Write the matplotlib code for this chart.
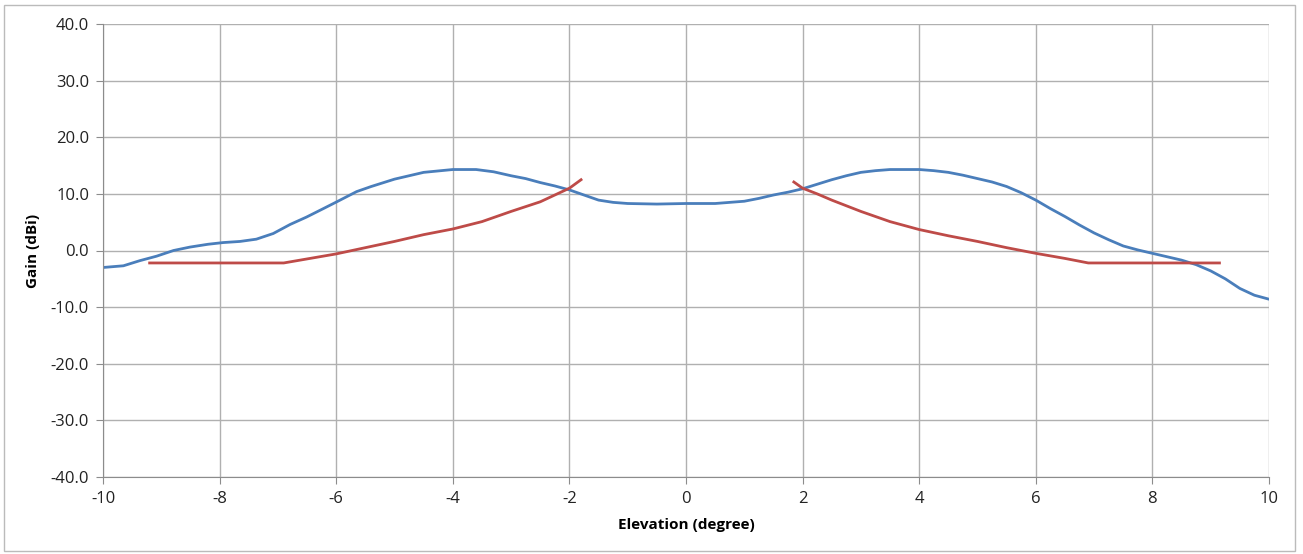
import matplotlib.pyplot as plt
from matplotlib.patches import Rectangle

# gain pattern (blue)
elev = [-10, -9.65, -9.37, -9.08, -8.79, -8.51, -8.2, -7.94, -7.65, -7.37, -7.08, -6.79,
        -6.51, -6.22, -5.99, -5.65, -5.4, -5, -4.5, -4, -3.6, -3.3, -3, -2.75, -2.5, -2.25,
        -2, -1.75, -1.5, -1.25, -1, -0.5, 0, 0.5, 1, 1.25, 1.5, 1.75, 2, 2.25, 2.5, 2.75,
        3, 3.25, 3.5, 4, 4.25, 4.5, 4.75, 5, 5.25, 5.5, 5.75, 6, 6.25, 6.5, 6.75, 7, 7.25,
        7.5, 7.75, 8, 8.25, 8.5, 8.75, 9, 9.25, 9.5, 9.75, 10]
gain = [-3.0, -2.7, -1.8, -1.0, 0.0, 0.6, 1.1, 1.4, 1.6, 2.0, 3.0, 4.6,
        5.9, 7.4, 8.6, 10.4, 11.3, 12.6, 13.8, 14.3, 14.3, 13.9, 13.2, 12.7, 12.0, 11.4,
        10.7, 9.8, 8.9, 8.5, 8.3, 8.2, 8.3, 8.3, 8.7, 9.2, 9.8, 10.3, 10.9, 11.7, 12.5, 13.2,
        13.8, 14.1, 14.3, 14.3, 14.1, 13.8, 13.3, 12.7, 12.1, 11.3, 10.2, 8.9, 7.4, 6.0, 4.5, 3.1, 1.9,
        0.8, 0.1, -0.5, -1.1, -1.7, -2.5, -3.6, -5.0, -6.7, -7.9, -8.6]

# mask (red), left and right branches
mask_left_x = [-9.2, -6.9, -6, -5, -4.5, -4, -3.5, -3, -2.5, -2.25, -2, -1.8]
mask_left_y = [-2.2, -2.2, -0.6, 1.6, 2.8, 3.8, 5.1, 6.9, 8.6, 9.8, 11.0, 12.5]
mask_right_x = [1.85, 2, 2.25, 2.5, 3, 3.5, 4, 4.5, 5, 5.5, 6, 6.5, 6.9, 9.15]
mask_right_y = [12.1, 11.0, 10.0, 8.9, 6.9, 5.1, 3.7, 2.6, 1.6, 0.5, -0.5, -1.4, -2.2, -2.2]

xticks = [-10, -8, -6, -4, -2, 0, 2, 4, 6, 8, 10]
yticks = [-40, -30, -20, -10, 0, 10, 20, 30, 40]

plt.rcParams['font.family'] = ['Open Sans', 'DejaVu Sans']

fig = plt.figure(figsize=(13.03, 5.54), dpi=100)
ax = fig.add_axes([103 / 1303, 1 - 477 / 554, (1269 - 103) / 1303, (477 - 24) / 554])

ax.plot(elev, gain, color='#4A7EBB', lw=2.0)
ax.plot(mask_left_x, mask_left_y, color='#BE4B48', lw=2.0)
ax.plot(mask_right_x, mask_right_y, color='#BE4B48', lw=2.0)

ax.set_xlim(-10, 10)
ax.set_ylim(-40, 40)
ax.set_xticks(xticks)
ax.set_xticklabels([str(t) for t in xticks])
ax.set_yticks(yticks)
ax.set_yticklabels(['%.1f' % t for t in yticks])
ax.grid(True, color='#B0B0B0', lw=1.0)
ax.set_axisbelow(True)
for s in ax.spines.values():
    s.set_visible(False)
ax.spines['left'].set_visible(True)
ax.spines['bottom'].set_visible(True)
ax.spines['left'].set_color('#8C8C8C')
ax.spines['bottom'].set_color('#8C8C8C')
ax.tick_params(direction='out', length=5, color='#8C8C8C', labelsize=12,
               labelcolor='#222222', pad=5)

ax.set_xlabel('Elevation (degree)', fontsize=11, fontweight='bold', labelpad=8)
ax.set_ylabel('Gain (dBi)', fontsize=11, fontweight='bold', labelpad=8)

fig.patches.append(Rectangle((4 / 1303, 3 / 554), 1291 / 1303, 546 / 554,
                             transform=fig.transFigure, fill=False,
                             edgecolor='#BBBBBB', lw=1.0))

fig.savefig('out.png', dpi=100)
